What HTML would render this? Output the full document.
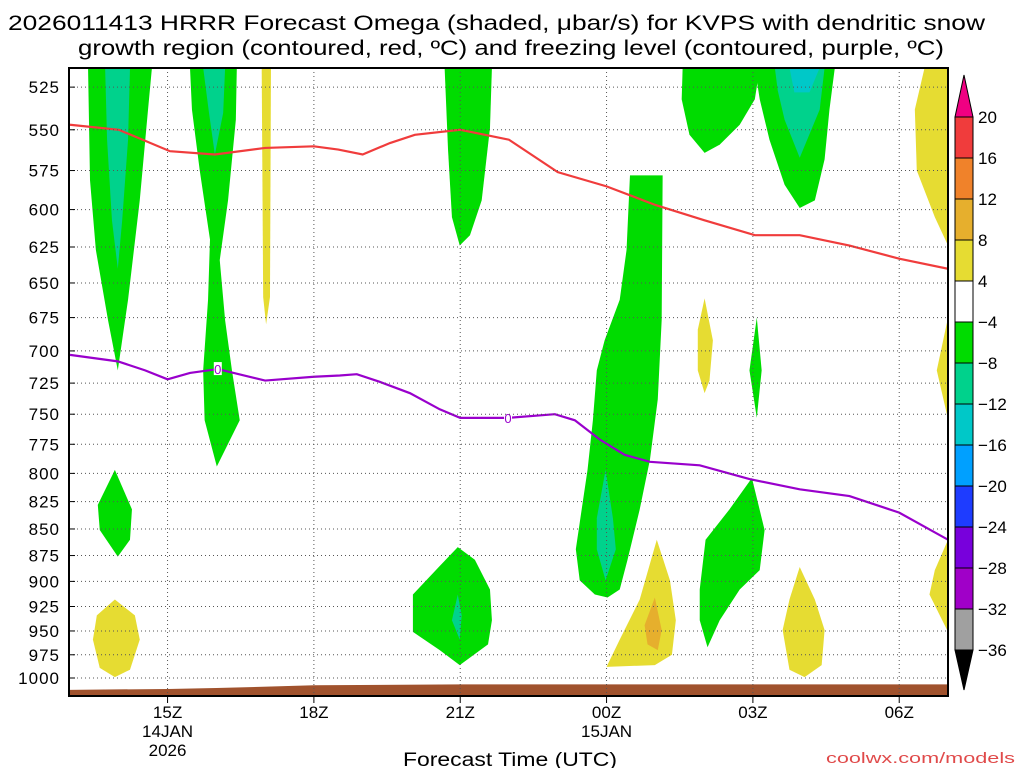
<!DOCTYPE html>
<html><head><meta charset="utf-8"><style>
html,body{margin:0;padding:0;background:#fff;}
svg text{font-family:"Liberation Sans",sans-serif;}
</style></head><body>
<svg id="chart" width="1024" height="768" xmlns="http://www.w3.org/2000/svg">
<text x="8" y="30" font-size="21" textLength="977" lengthAdjust="spacingAndGlyphs">2026011413 HRRR Forecast Omega (shaded, μbar/s) for KVPS with dendritic snow</text>
<text x="78" y="55" font-size="21" textLength="866" lengthAdjust="spacingAndGlyphs">growth region (contoured, red, ºC) and freezing level (contoured, purple, ºC)</text>
<g id="plot"></g>
<text x="403" y="766" font-size="19" textLength="214" lengthAdjust="spacingAndGlyphs">Forecast Time (UTC)</text>
<text x="826" y="763" font-size="15" fill="#e04a4a" textLength="189" lengthAdjust="spacingAndGlyphs">coolwx.com/models</text>
</svg>
<script>
const pressureTicks=[525,550,575,600,625,650,675,700,725,750,775,800,825,850,875,900,925,950,975,1000];
const timeTickHours=[2,5,8,11,14,17];
const timeTickLabels=["15Z","18Z","21Z","00Z","03Z","06Z"];
const cbLevels=[20,16,12,8,4,-4,-8,-12,-16,-20,-24,-28,-32,-36];
const cbColors=["#f03c3c","#f0822a","#e6af2d","#e6dc32","#ffffff","#00dc00","#00d28c","#00c8c8","#00a0ff","#1e3cff","#7800dc","#a000c8","#a0a0a0"];
const greenShapes=[
[[0.37,514],[1.68,514],[1.6,538],[1.43,594],[1.19,662],[0.98,715],[0.78,677],[0.53,627],[0.41,581]],
[[2.46,514],[3.42,514],[3.40,544],[3.24,594],[3.07,634],[3.18,677],[3.32,715],[3.48,755],[3.01,794],[2.76,755],[2.73,715],[2.83,662],[2.87,620],[2.66,575],[2.5,538]],
[[7.68,514],[8.65,514],[8.61,549],[8.44,594],[8.2,617],[7.99,624],[7.83,605],[7.75,562]],
[[11.48,578],[12.15,578],[12.13,677],[12.05,738],[11.89,788],[11.68,832],[11.43,879],[11.27,908],[11.02,916],[10.76,913],[10.45,899],[10.37,869],[10.49,832],[10.61,797],[10.72,755],[10.8,715],[10.96,692],[11.27,662],[11.41,627]],
[[7.03,913],[7.58,885],[7.95,867],[8.3,879],[8.61,908],[8.65,939],[8.57,964],[7.99,986],[7.58,970],[7.03,951]],
[[12.91,908],[13.03,860],[13.52,832],[13.98,804],[14.24,851],[14.14,889],[13.73,908],[13.32,939],[13.07,967],[12.91,939]],
[[12.56,514],[14.14,514],[14.04,532],[13.73,547],[13.32,559],[13.01,564],[12.7,553],[12.54,532]],
[[14.04,514],[15.68,514],[15.57,538],[15.47,568],[15.27,594],[14.96,599],[14.65,584],[14.34,556],[14.14,532]],
[[14.08,675],[14.18,715],[14.08,753],[13.93,715]],
[[0.92,797],[1.27,832],[1.23,860],[0.98,876],[0.61,851],[0.57,828]]
];
const tealShapes=[
[[0.72,514],[1.23,514],[1.19,556],[1.07,607],[0.98,640],[0.86,607],[0.76,556]],
[[2.73,514],[3.18,514],[3.14,540],[2.97,565],[2.85,540]],
[[10.98,797],[11.13,840],[11.19,869],[10.98,899],[10.8,869],[10.8,840]],
[[7.95,913],[8.03,934],[7.99,959],[7.83,939]],
[[14.45,514],[15.47,514],[15.37,538],[14.96,567],[14.65,544],[14.51,527]]
];
const cyanShapes=[[[14.75,514],[15.37,514],[15.16,528],[14.85,528]]];
const yellowShapes=[
[[3.93,514],[4.12,514],[4.1,660],[4.02,680],[3.96,660]],
[[0.92,918],[1.33,934],[1.43,959],[1.23,991],[0.92,999],[0.61,989],[0.47,959],[0.55,934]],
[[13.01,661],[13.18,692],[13.11,723],[13.01,733],[12.87,715],[12.87,684]],
[[12.03,860],[12.3,899],[12.42,939],[12.34,975],[11.99,986],[11.0,988],[11.27,959],[11.68,918]],
[[14.96,886],[15.27,918],[15.47,949],[15.41,986],[15.06,999],[14.75,991],[14.61,949],[14.75,918]],
[[17.52,514],[18,514],[18,624],[17.73,605],[17.36,575],[17.32,538]],
[[18,675],[17.77,715],[18,754]],
[[18,860],[17.73,889],[17.62,913],[18,951]]
];
const orangeShapes=[[[11.99,916],[12.13,949],[12.05,970],[11.84,964],[11.78,944]]];
const dgzHours=[0,1,2.05,2.97,4,5,5.5,6,6.56,7.07,8,9,10,11,12,13,14.04,14.96,15.98,17,18];
const dgzPres=[547,550,563,565,561,560,562,565,558,553,550,556,576,585,597,607,617,617,624,633,640];
const frzHours=[0,0.98,1.54,2,2.46,3.03,4,5,5.53,5.88,6.35,6.97,7.58,8,8.98,9.94,10.35,10.86,11.37,11.89,12.91,13.93,14.96,15.98,17,18];
const frzPres=[703,708,715,722,717,714,723,720,719,718,724,733,746,753,753,750,755,771,784,790,793,805,814,820,835,860];
const terrainHours=[0,2,3,5,8,18];
const terrainPres=[1013,1012,1011,1008,1007,1007];

const L=69,R=948,T=68,B=696,NS='http://www.w3.org/2000/svg';
const xs=h=>70+h*(878/18);
const ys=p=>678-917*Math.log(1000/p);
const g=document.getElementById('plot');
function mk(tag,attrs,parent){const e=document.createElementNS(NS,tag);for(const k in attrs)e.setAttribute(k,attrs[k]);(parent||g).appendChild(e);return e;}
const clip=mk('clipPath',{id:'pc'});mk('rect',{x:L,y:T,width:R-L,height:B-T},clip);
const cg=mk('g',{'clip-path':'url(#pc)'});
function poly(list,color,name){list.forEach(s=>{const e=mk('polygon',{points:s.map(d=>xs(d[0])+','+ys(d[1])).join(' '),fill:color},cg);

});}
poly(greenShapes,'#00dc00','omega-green-region');
poly(tealShapes,'#00d28c','omega-teal-region');
poly(cyanShapes,'#00c8c8','omega-cyan-region');
poly(yellowShapes,'#e6dc32','omega-yellow-region');
poly(orangeShapes,'#e6af2d','omega-orange-region');
const tp=terrainHours.map((h,i)=>xs(h)+','+ys(terrainPres[i])).join(' ')+' '+xs(18)+','+B+' '+xs(0)+','+B;
const terr=mk('polygon',{points:tp,fill:'#a0522d'},cg);


pressureTicks.forEach(p=>{const y=ys(p);
const gl=mk('line',{x1:L,x2:R,y1:y,y2:y,stroke:'#555','stroke-width':1,'stroke-dasharray':'1,3'});


mk('line',{x1:L,x2:L+6,y1:y,y2:y,stroke:'#000'});
const t=mk('text',{x:60,y:y+6,'font-size':17,'text-anchor':'end','letter-spacing':1});t.textContent=p;

});
timeTickHours.forEach((h,i)=>{const x=xs(h);
const gl=mk('line',{x1:x,x2:x,y1:T,y2:B,stroke:'#555','stroke-width':1,'stroke-dasharray':'1,3'});


mk('line',{x1:x,x2:x,y1:B,y2:B+7,stroke:'#000'});
const t=mk('text',{x:x,y:718,'font-size':17,'text-anchor':'middle'});t.textContent=timeTickLabels[i];

});
[['14JAN',737,2],['2026',756,2],['15JAN',737,11]].forEach(a=>{const t=mk('text',{x:xs(a[2]),y:a[1],'font-size':17,'text-anchor':'middle'});t.textContent=a[0];

});
function line(hs,ps,color,name){const e=mk('polyline',{points:hs.map((h,i)=>xs(h)+','+ys(ps[i])).join(' '),fill:'none',stroke:color,'stroke-width':2.2},cg);

}
line(dgzHours,dgzPres,'#f03c3c','dendritic-growth-contour');
line(frzHours,frzPres,'#9900cc','freezing-level-contour');
[3.03,8.98].forEach(h=>{const i=frzHours.indexOf(h);const y=ys(frzPres[i]);
mk('rect',{x:xs(h)-4,y:y-7,width:8,height:13,fill:'#fff'},cg);
const t=mk('text',{x:xs(h),y:y+5,'font-size':13,'text-anchor':'middle',fill:'#9900cc'},cg);t.textContent='0';

});
const fr=mk('rect',{x:L,y:T,width:R-L,height:B-T,fill:'none',stroke:'#000','stroke-width':2});


const cbX=955,cbW=18,cbTop=117,cbStep=41;
const cb=mk('g',{});


mk('polygon',{points:`${cbX},${cbTop} ${cbX+cbW},${cbTop} ${cbX+cbW/2},75`,fill:'#f00082',stroke:'#000'},cb);
cbColors.forEach((c,i)=>{const r=mk('rect',{x:cbX,y:cbTop+i*cbStep,width:cbW,height:cbStep,fill:c,stroke:'#000','stroke-width':1},cb);

});
const cbBot=cbTop+cbColors.length*cbStep;
mk('polygon',{points:`${cbX},${cbBot} ${cbX+cbW},${cbBot} ${cbX+cbW/2},690`,fill:'#000',stroke:'#000'},cb);
cbLevels.forEach((v,i)=>{const t=mk('text',{x:978,y:cbTop+i*cbStep+6,'font-size':17},cb);t.textContent=v<0?'\u2212'+(-v):String(v);

});
</script>
</body></html>
